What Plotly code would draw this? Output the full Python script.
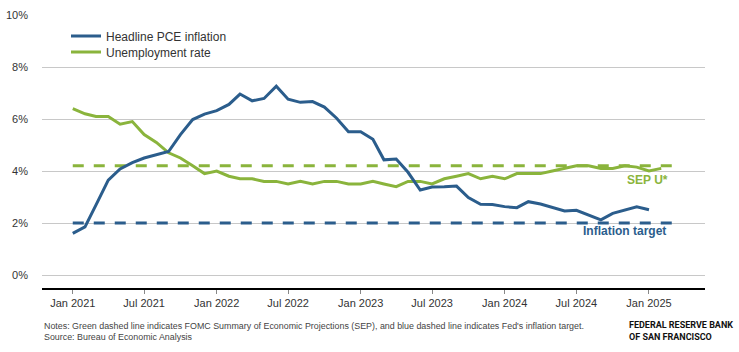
import plotly.graph_objects as go
import pandas as pd

# ---- data ----
months_infl = pd.date_range("2021-01-01", "2025-01-01", freq="MS").strftime("%Y-%m-%d").tolist()
months_unemp = pd.date_range("2021-01-01", "2025-02-01", freq="MS").strftime("%Y-%m-%d").tolist()

pce_inflation = [
    1.60, 1.85, 2.70, 3.65, 4.08, 4.32, 4.50, 4.62, 4.75, 5.40, 5.98, 6.19,
    6.32, 6.56, 6.96, 6.70, 6.79, 7.26, 6.76, 6.64, 6.67, 6.46, 6.03, 5.51,
    5.51, 5.22, 4.43, 4.46, 3.95, 3.27, 3.38, 3.39, 3.42, 2.98, 2.72, 2.71,
    2.63, 2.59, 2.82, 2.73, 2.59, 2.46, 2.49, 2.29, 2.12, 2.37, 2.49, 2.62,
    2.51,
]
unemployment = [
    6.4, 6.2, 6.1, 6.1, 5.8, 5.9, 5.4, 5.1, 4.7, 4.5, 4.2, 3.9,
    4.0, 3.8, 3.7, 3.7, 3.6, 3.6, 3.5, 3.6, 3.5, 3.6, 3.6, 3.5,
    3.5, 3.6, 3.5, 3.4, 3.6, 3.6, 3.5, 3.7, 3.8, 3.9, 3.7, 3.8,
    3.7, 3.9, 3.9, 3.9, 4.0, 4.1, 4.2, 4.2, 4.1, 4.1, 4.2, 4.15,
    4.0, 4.1,
]
ref_span = ["2021-01-01", "2025-03-01"]
sep_u_star = [4.2, 4.2]
inflation_target = [2.0, 2.0]

tick_dates = ["2021-01-01", "2021-07-01", "2022-01-01", "2022-07-01", "2023-01-01",
              "2023-07-01", "2024-01-01", "2024-07-01", "2025-01-01"]
tick_labels = ["Jan 2021", "Jul 2021", "Jan 2022", "Jul 2022", "Jan 2023",
               "Jul 2023", "Jan 2024", "Jul 2024", "Jan 2025"]
y_ticks = [0, 2, 4, 6, 8, 10]
y_labels = ["0%", "2%", "4%", "6%", "8%", "10%"]

BLUE = "#2b5d8c"
GREEN = "#8ab43c"
FONT = "Liberation Sans, Arial, sans-serif"

# ---- layout geometry ----
W, H = 739, 352
ML, MR, MT, MB = 42, 34, 15, 64
PW, PH = W - ML - MR, H - MT - MB


def px_x(px):
    return (px - ML) / PW


def px_y(py):
    return (H - MB - py) / PH


fig = go.Figure()

fig.add_trace(go.Scatter(x=ref_span, y=sep_u_star, mode="lines",
                         line=dict(color=GREEN, width=3, dash="11px,10px"),
                         showlegend=False, hoverinfo="skip"))
fig.add_trace(go.Scatter(x=ref_span, y=inflation_target, mode="lines",
                         line=dict(color=BLUE, width=3, dash="11px,10px"),
                         showlegend=False, hoverinfo="skip"))
fig.add_trace(go.Scatter(x=months_unemp, y=unemployment, mode="lines",
                         name="Unemployment rate", legend="legend2",
                         line=dict(color=GREEN, width=3)))
fig.add_trace(go.Scatter(x=months_infl, y=pce_inflation, mode="lines",
                         name="Headline PCE inflation", legend="legend",
                         line=dict(color=BLUE, width=3)))

fig.add_annotation(x="2024-12-28", y=3.65, text="<b>SEP U*</b>", showarrow=False,
                   font=dict(family=FONT, size=12, color=GREEN), xanchor="center", yanchor="middle")
fig.add_annotation(x="2024-11-01", y=1.69, text="<b>Inflation target</b>", showarrow=False,
                   font=dict(family=FONT, size=12, color=BLUE), xanchor="center", yanchor="middle")

notes = ("Notes: Green dashed line indicates FOMC Summary of Economic Projections (SEP), "
         "and blue dashed line indicates Fed's inflation target.")
source = "Source: Bureau of Economic Analysis"
for txt, py in [(notes, 326), (source, 337)]:
    fig.add_annotation(xref="paper", yref="paper", x=px_x(42), y=px_y(py), text=txt,
                       showarrow=False, xanchor="left", yanchor="middle",
                       font=dict(family=FONT, size=8.9, color="#444444"))
for txt, py in [("FEDERAL RESERVE BANK", 325), ("OF SAN FRANCISCO", 337)]:
    fig.add_annotation(xref="paper", yref="paper", x=px_x(627), y=px_y(py), text="<b>" + txt + "</b>",
                       showarrow=False, xanchor="left", yanchor="middle",
                       font=dict(family="Roboto, " + FONT, size=9, color="#111111"))

legend_common = dict(font=dict(family=FONT, size=12, color="#333333"), bgcolor="rgba(0,0,0,0)",
                     xanchor="left", yanchor="middle", borderwidth=0)
fig.update_layout(
    width=W, height=H,
    margin=dict(l=ML, r=MR, t=MT, b=MB, autoexpand=False),
    paper_bgcolor="white", plot_bgcolor="white",
    font=dict(family=FONT, size=11, color="#333333"),
    legend=dict(x=px_x(66), y=px_y(36), **legend_common),
    legend2=dict(x=px_x(66), y=px_y(52), **legend_common),
    xaxis=dict(type="date", range=["2020-10-15", "2025-05-23"],
               tickvals=tick_dates, ticktext=tick_labels, automargin=False,
               showgrid=False, zeroline=False,
               showline=True, linecolor="#000000", linewidth=2,
               ticks="outside", ticklen=4, tickcolor="#888888", tickwidth=1,
               tickfont=dict(family=FONT, size=11, color="#333333")),
    yaxis=dict(range=[-0.5, 10], tickvals=y_ticks, ticktext=y_labels, automargin=False,
               showgrid=True, gridcolor="#c8c8c8", gridwidth=1, zeroline=False,
               showline=False, ticks="", ticklabelstandoff=13,
               tickfont=dict(family=FONT, size=11, color="#333333")),
)

fig.write_html("out.html")
